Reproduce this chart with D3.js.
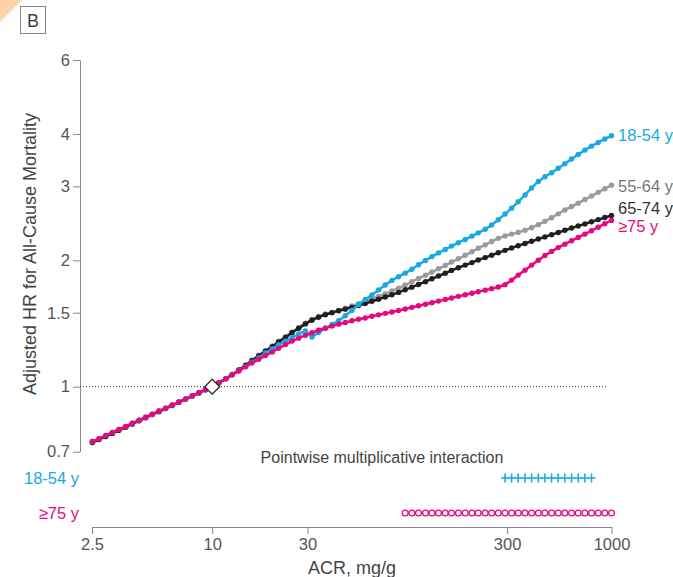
<!DOCTYPE html>
<html>
<head>
<meta charset="utf-8">
<script src="https://cdn.jsdelivr.net/npm/d3@7"></script>
<style>
  html, body { margin: 0; padding: 0; background: #fff; }
  svg text { font-family: "Liberation Sans", Arial, Helvetica, sans-serif; }
</style>
</head>
<body>
<svg id="chart" width="673" height="577"></svg>
<script>
// ACR grid (mg/g), log-spaced from 2.5 to 1000
const acr = [
  2.51, 2.71, 2.93, 3.16, 3.41, 3.69, 3.98, 4.30, 4.64, 5.01,
  5.41, 5.84, 6.31, 6.81, 7.36, 7.94, 8.58, 9.26, 10, 10.8,
  11.7, 12.6, 13.6, 14.7, 15.8, 17.1, 18.5, 20.0, 21.5, 23.3,
  25.1, 27.1, 29.3, 31.6, 34.1, 36.9, 39.8, 43.0, 46.4, 50.1,
  54.1, 58.4, 63.1, 68.1, 73.6, 79.4, 85.8, 92.6, 100, 108,
  117, 126, 136, 147, 158, 171, 185, 200, 215, 233,
  251, 271, 293, 316, 341, 369, 398, 430, 464, 501,
  541, 584, 631, 681, 736, 794, 858, 926, 1000
];

// Adjusted hazard ratios by age group
const hr18to54 = [
  0.740, 0.752, 0.765, 0.778, 0.791, 0.804, 0.818, 0.832, 0.846, 0.860,
  0.875, 0.889, 0.904, 0.920, 0.935, 0.951, 0.967, 0.983, 1.000, 1.022,
  1.044, 1.068, 1.092, 1.118, 1.144, 1.170, 1.203, 1.230, 1.257, 1.283,
  1.309, 1.335, 1.357, 1.313, 1.346, 1.376, 1.406, 1.436, 1.475, 1.519,
  1.569, 1.614, 1.654, 1.700, 1.747, 1.791, 1.828, 1.864, 1.904, 1.952,
  1.998, 2.041, 2.083, 2.122, 2.162, 2.202, 2.242, 2.283, 2.325, 2.371,
  2.428, 2.498, 2.579, 2.662, 2.757, 2.862, 2.974, 3.082, 3.162, 3.234,
  3.313, 3.398, 3.486, 3.573, 3.660, 3.741, 3.817, 3.891, 3.960
];
const hr55to64 = [
  0.736, 0.748, 0.761, 0.774, 0.787, 0.801, 0.815, 0.829, 0.843, 0.858,
  0.872, 0.887, 0.902, 0.918, 0.934, 0.950, 0.966, 0.983, 1.000, 1.022,
  1.045, 1.069, 1.096, 1.127, 1.157, 1.188, 1.219, 1.250, 1.283, 1.316,
  1.350, 1.383, 1.417, 1.446, 1.470, 1.490, 1.503, 1.520, 1.538, 1.557,
  1.576, 1.597, 1.618, 1.640, 1.664, 1.690, 1.717, 1.746, 1.778, 1.810,
  1.842, 1.875, 1.909, 1.944, 1.981, 2.017, 2.056, 2.096, 2.137, 2.177,
  2.218, 2.256, 2.286, 2.309, 2.331, 2.358, 2.392, 2.432, 2.476, 2.526,
  2.580, 2.636, 2.686, 2.736, 2.791, 2.846, 2.903, 2.961, 3.020
];
const hr65to74 = [
  0.736, 0.748, 0.761, 0.774, 0.787, 0.801, 0.815, 0.829, 0.843, 0.858,
  0.872, 0.887, 0.902, 0.918, 0.934, 0.950, 0.966, 0.983, 1.000, 1.022,
  1.045, 1.069, 1.096, 1.124, 1.153, 1.184, 1.214, 1.245, 1.278, 1.310,
  1.344, 1.377, 1.411, 1.440, 1.464, 1.484, 1.501, 1.516, 1.530, 1.545,
  1.561, 1.578, 1.597, 1.615, 1.635, 1.655, 1.677, 1.701, 1.726, 1.752,
  1.779, 1.807, 1.835, 1.863, 1.892, 1.920, 1.948, 1.975, 2.004, 2.030,
  2.057, 2.084, 2.112, 2.140, 2.167, 2.193, 2.220, 2.247, 2.274, 2.302,
  2.330, 2.358, 2.387, 2.414, 2.442, 2.471, 2.500, 2.529, 2.558
];
const hr75plus = [
  0.740, 0.752, 0.765, 0.778, 0.791, 0.804, 0.818, 0.832, 0.846, 0.860,
  0.875, 0.889, 0.904, 0.920, 0.935, 0.951, 0.967, 0.983, 1.000, 1.022,
  1.044, 1.067, 1.090, 1.115, 1.139, 1.162, 1.186, 1.210, 1.234, 1.260,
  1.284, 1.305, 1.325, 1.345, 1.363, 1.380, 1.394, 1.409, 1.422, 1.435,
  1.447, 1.458, 1.471, 1.483, 1.495, 1.506, 1.519, 1.531, 1.545, 1.559,
  1.572, 1.585, 1.599, 1.613, 1.627, 1.641, 1.655, 1.669, 1.683, 1.698,
  1.712, 1.728, 1.750, 1.794, 1.844, 1.895, 1.948, 2.001, 2.054, 2.100,
  2.144, 2.185, 2.227, 2.267, 2.309, 2.352, 2.398, 2.444, 2.489
];

// ACR values where the pointwise multiplicative interaction is significant
const interaction18to54 = [293, 316, 341, 369, 398, 430, 464, 501, 541, 584, 631, 681, 736, 794];
const interaction75plus = [
  92.6, 100, 108, 117, 126, 136, 147, 158, 171, 185, 200, 215, 233, 251, 271, 293,
  316, 341, 369, 398, 430, 464, 501, 541, 584, 631, 681, 736, 794, 858, 926, 1000
];

const xTicks = [2.5, 10, 30, 300, 1000];
const yTicks = [0.7, 1, 1.5, 2, 3, 4, 6];

const seriesNames = ["55-64 y", "65-74 y", "18-54 y", "\u226575 y"];
const seriesValues = [hr55to64, hr65to74, hr18to54, hr75plus];
const seriesColors = ["#9b9b9b", "#231f20", "#19a8e2", "#e5097f"];
const labelColors = ["#777777", "#333333", "#19a8e2", "#e5097f"];
const labelY = [186, 208, 135, 226];

const svg = d3.select("#chart");

// corner tab and panel letter
svg.append("path").attr("d", "M0,0H22L0,22Z").attr("fill", "#fcd4a8");
svg.append("rect").attr("x", 20.5).attr("y", 6.5).attr("width", 25).attr("height", 27)
  .attr("fill", "none").attr("stroke", "#8a8a8a").attr("stroke-width", 1);
svg.append("text").attr("x", 33).attr("y", 27).attr("text-anchor", "middle")
  .attr("font-size", 18).attr("fill", "#444").text("B");

const x = d3.scaleLog().domain([2.5, 1000]).range([92, 611.5]);
const y = d3.scaleLog().domain([0.7, 6]).range([451.7, 60]);

// y axis
const yAxis = svg.append("g").attr("transform", "translate(80,0)")
  .call(d3.axisLeft(y).tickValues(yTicks).tickFormat(d3.format("")).tickSize(7).tickSizeOuter(0).tickPadding(3));
yAxis.select(".domain").attr("stroke", "#8a8a8a");
yAxis.selectAll(".tick line").attr("stroke", "#8a8a8a");
yAxis.selectAll(".tick text").attr("font-size", 16.5).attr("fill", "#555")
  .attr("font-family", "'Liberation Sans', Arial, sans-serif");

// x axis
const xAxis = svg.append("g").attr("transform", "translate(0,527)")
  .call(d3.axisBottom(x).tickValues(xTicks).tickFormat(d3.format("")).tickSize(7).tickSizeOuter(0).tickPadding(4));
xAxis.select(".domain").attr("stroke", "#8a8a8a");
xAxis.selectAll(".tick line").attr("stroke", "#8a8a8a");
xAxis.selectAll(".tick text").attr("font-size", 16.5).attr("fill", "#555")
  .attr("font-family", "'Liberation Sans', Arial, sans-serif");

// axis titles
svg.append("text").attr("transform", "translate(36,254) rotate(-90)")
  .attr("text-anchor", "middle").attr("font-size", 18).attr("fill", "#444")
  .text("Adjusted HR for All-Cause Mortality");
svg.append("text").attr("x", 352).attr("y", 574).attr("text-anchor", "middle")
  .attr("font-size", 18).attr("fill", "#444").text("ACR, mg/g");

// reference line at HR = 1
svg.append("line").attr("x1", 80).attr("x2", 608).attr("y1", y(1)).attr("y2", y(1))
  .attr("stroke", "#333").attr("stroke-width", 1).attr("stroke-dasharray", "1,2");

// curves with beaded points
const line = d3.line().x((d, i) => x(acr[i])).y(d => y(d));
seriesValues.forEach((vals, s) => {
  const g = svg.append("g");
  g.append("path").datum(vals).attr("d", line).attr("fill", "none")
    .attr("stroke", seriesColors[s]).attr("stroke-width", 2.5);
  g.selectAll("circle").data(vals).join("circle")
    .attr("cx", (d, i) => x(acr[i])).attr("cy", d => y(d)).attr("r", 2.7)
    .attr("fill", seriesColors[s]);
  svg.append("text").attr("x", 618).attr("y", labelY[s] + 5.5)
    .attr("font-size", 16.5).attr("fill", labelColors[s])
    .text(seriesNames[s]);
});

// reference point at ACR 10
svg.append("path").attr("d", d3.symbol(d3.symbolSquare, 112)())
  .attr("transform", `translate(${x(10)},${y(1)}) rotate(45)`)
  .attr("fill", "#fff").attr("stroke", "#231f20").attr("stroke-width", 1.3);

// pointwise interaction rows
svg.append("text").attr("x", 382).attr("y", 463).attr("text-anchor", "middle")
  .attr("font-size", 16).attr("fill", "#444").text("Pointwise multiplicative interaction");
svg.append("text").attr("x", 79).attr("y", 484).attr("text-anchor", "end")
  .attr("font-size", 16.5).attr("fill", "#19a8e2").text("18-54 y");
svg.append("text").attr("x", 79).attr("y", 519).attr("text-anchor", "end")
  .attr("font-size", 16.5).attr("fill", "#e5097f").text("\u226575 y");

svg.append("g").selectAll("path").data(interaction18to54).join("path")
  .attr("d", "M-4,0H4M0,-4.5V4.5")
  .attr("transform", d => `translate(${x(d)},478)`)
  .attr("stroke", "#19a8e2").attr("stroke-width", 1.6).attr("fill", "none");

svg.append("g").selectAll("circle").data(interaction75plus).join("circle")
  .attr("cx", d => x(d)).attr("cy", 513).attr("r", 2.9)
  .attr("fill", "none").attr("stroke", "#e5097f").attr("stroke-width", 1.3);
</script>
</body>
</html>
